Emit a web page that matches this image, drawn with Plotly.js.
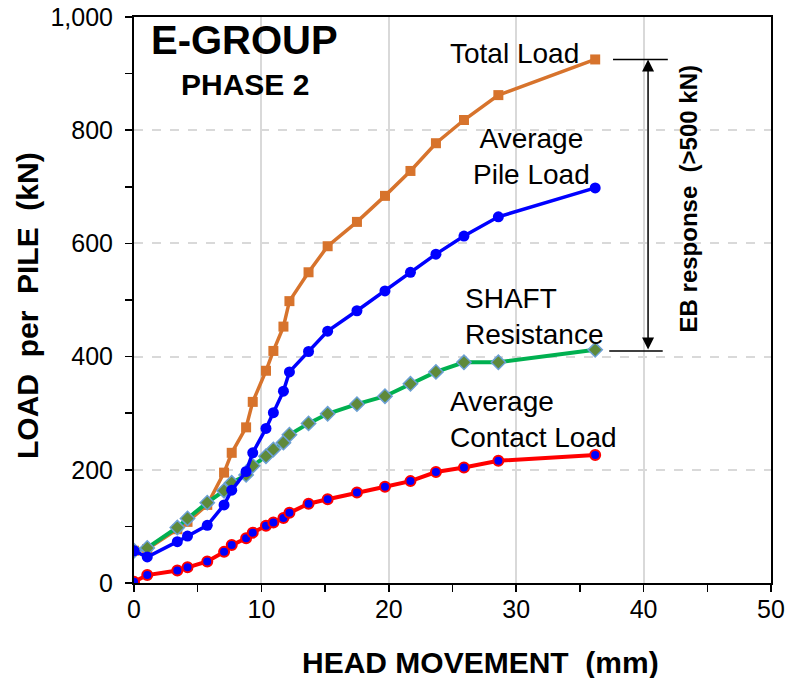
<!DOCTYPE html>
<html>
<head>
<meta charset="utf-8">
<script src="https://cdn.plot.ly/plotly-3.0.1.min.js"></script>
<style>html,body{margin:0;padding:0;background:#fff;}#chart{width:790px;height:678px;}</style>
</head>
<body>
<div id="chart"></div>
<script>
// Head movement (mm)
const movement = [0, 1.04, 3.4, 4.2, 5.75, 7.07, 7.67, 8.8, 9.32, 10.36, 10.94, 11.73, 12.2, 13.7, 15.2, 17.5, 19.7, 21.7, 23.7, 25.9, 28.6, 36.2];
// Loads per pile (kN)
const totalLoad   = [57, 60, 95, 108, 138, 195, 230, 275, 320, 375, 410, 453, 498, 549, 595, 638, 684, 728, 777, 818, 862, 925];
const avgPileLoad = [57, 46, 73, 83, 102, 138, 164, 197, 230, 273, 301, 339, 373, 409, 445, 481, 516, 549, 581, 613, 647, 698];
const shaftRes    = [57, 62, 98, 114, 142, 163, 177, 191, 207, 224, 236, 248, 262, 282, 299, 316, 330, 352, 373, 390, 390, 412];
const contactLoad = [2, 14, 22, 28, 38, 55, 67, 79, 89, 101, 107, 115, 124, 140, 148, 160, 170, 180, 196, 204, 216, 226];

const xTicks = [0, 10, 20, 30, 40, 50];
const yTicks = [0, 200, 400, 600, 800, 1000];
const yTickText = ['0', '200', '400', '600', '800', '1,000'];

const FONT = 'Liberation Sans, Arial, sans-serif';

const traces = [
  {x: movement, y: totalLoad, mode: 'lines+markers', name: 'Total Load',
   line: {color: '#D7732C', width: 3.5}, marker: {symbol: 'square', size: 10, color: '#D7732C'}},
  {x: movement, y: shaftRes, mode: 'lines+markers', name: 'SHAFT Resistance',
   line: {color: '#00B050', width: 4}, marker: {symbol: 'diamond', size: 11, color: '#5F8A3A', line: {color: '#6A9FD3', width: 1.5}}},
  {x: movement, y: avgPileLoad, mode: 'lines+markers', name: 'Average Pile Load',
   line: {color: '#0000FF', width: 3.5}, marker: {symbol: 'circle', size: 11, color: '#0000FF'}},
  {x: movement, y: contactLoad, mode: 'lines+markers', name: 'Average Contact Load',
   line: {color: '#FF0000', width: 4}, marker: {symbol: 'circle', size: 10, color: '#0000FF', line: {color: '#FF0000', width: 2}}}
];

const annFont = {family: FONT, size: 28, color: '#000'};
const titleFont = {family: FONT, size: 30, color: '#000'};
const layout = {
  width: 790, height: 678,
  margin: {l: 134, r: 19, t: 17, b: 95},
  paper_bgcolor: '#fff', plot_bgcolor: '#fff',
  showlegend: false,
  font: {family: FONT, color: '#000'},
  xaxis: {
    range: [0, 50], tickvals: xTicks, ticktext: xTicks.map(String),
    showline: true, linecolor: '#000', linewidth: 2, mirror: true,
    ticks: 'outside', ticklen: 7, tickwidth: 1.5, tickcolor: '#000',
    minor: {dtick: 5, ticks: 'outside', ticklen: 7, tickwidth: 1.5, tickcolor: '#000', showgrid: false},
    showgrid: true, gridcolor: '#D9D9D9', gridwidth: 2,
    zeroline: false,
    ticklabelstandoff: -4,
    tickfont: {family: FONT, size: 25, color: '#000'}
  },
  yaxis: {
    range: [0, 1000], tickvals: yTicks, ticktext: yTickText,
    showline: true, linecolor: '#000', linewidth: 2, mirror: true,
    ticks: 'outside', ticklen: 7, tickwidth: 1.5, tickcolor: '#000',
    minor: {dtick: 100, ticks: 'outside', ticklen: 7, tickwidth: 1.5, tickcolor: '#000', showgrid: false},
    showgrid: true, gridcolor: '#D9D9D9', gridwidth: 2, griddash: 'dash',
    zeroline: false,
    ticklabelstandoff: 7,
    tickfont: {family: FONT, size: 25, color: '#000'}
  },
  annotations: [
    {x: 0.5447, y: -0.1396, xref: 'paper', yref: 'paper', yanchor: 'middle', text: '<b>HEAD MOVEMENT\u00A0\u00A0(mm)</b>', showarrow: false, font: titleFont},
    {x: -0.1664, y: 0.4894, xref: 'paper', yref: 'paper', xanchor: 'center', text: '<b>LOAD\u00A0\u00A0per\u00A0\u00A0PILE\u00A0\u00A0(kN)</b>', textangle: -90, showarrow: false, font: titleFont},
    {x: 8.7, y: 959, xref: 'x', yref: 'y', text: '<b>E-GROUP</b>', showarrow: false, font: {family: FONT, size: 40, color: '#000'}},
    {x: 8.7, y: 880, xref: 'x', yref: 'y', text: '<b>PHASE 2</b>', showarrow: false, font: {family: FONT, size: 30, color: '#000'}},
    {x: 29.9, y: 936, xref: 'x', yref: 'y', text: 'Total Load', showarrow: false, font: annFont},
    {x: 31.2, y: 753, xref: 'x', yref: 'y', text: 'Average<br>Pile Load', showarrow: false, align: 'center', font: annFont},
    {x: 25.8, y: 470, xref: 'x', yref: 'y', xanchor: 'left', text: 'SHAFT<br>Resistance', showarrow: false, align: 'left', font: annFont},
    {x: 24.65, y: 288, xref: 'x', yref: 'y', xanchor: 'left', text: 'Average<br>Contact\u00A0Load', showarrow: false, align: 'left', font: annFont},
    {x: 43.5, y: 678, xref: 'x', yref: 'y', text: '<b>EB response\u00A0\u00A0(>500 kN)</b>', textangle: -90, showarrow: false, font: {family: FONT, size: 24, color: '#000'}},
    {x: 40.35, y: 925, ax: 40.35, ay: 410, xref: 'x', yref: 'y', axref: 'x', ayref: 'y', text: '', showarrow: true,
     arrowside: 'end+start', arrowhead: 2, arrowsize: 1.6, arrowwidth: 1.5, arrowcolor: '#000', standoff: 0, startstandoff: 0}
  ],
  shapes: [
    {type: 'line', xref: 'x', yref: 'y', x0: 37.6, x1: 41.9, y0: 925, y1: 925, line: {color: '#000', width: 1.5}},
    {type: 'line', xref: 'x', yref: 'y', x0: 37.3, x1: 41.5, y0: 410, y1: 410, line: {color: '#000', width: 1.5}}
  ]
};

Plotly.newPlot('chart', traces, layout, {displayModeBar: false, staticPlot: true});
</script>
</body>
</html>
